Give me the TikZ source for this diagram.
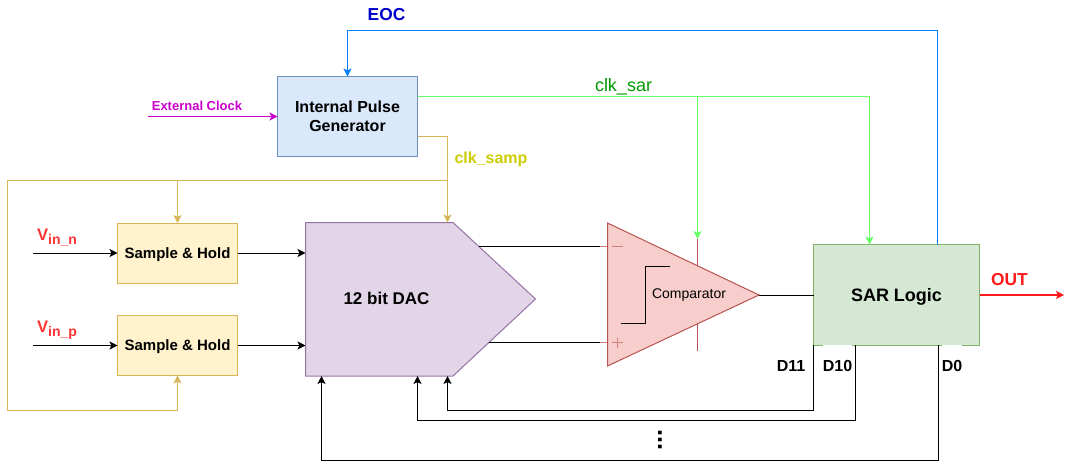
\documentclass[tikz,border=0pt]{standalone}
\usepackage{fontspec}
\setmainfont{Liberation Sans}
\usetikzlibrary{arrows.meta, positioning}

\definecolor{bluefill}{HTML}{DAE8FC}
\definecolor{blueline}{HTML}{6C8EBF}
\definecolor{goldfill}{HTML}{FFF2CC}
\definecolor{goldline}{HTML}{D6B656}
\definecolor{dacfill}{HTML}{E1D5E7}
\definecolor{dacline}{HTML}{9673A6}
\definecolor{cmpfill}{HTML}{F8CECC}
\definecolor{cmpline}{HTML}{B85450}
\definecolor{sarfill}{HTML}{D5E8D4}
\definecolor{sarline}{HTML}{82B366}
\definecolor{eocline}{HTML}{007FFF}
\definecolor{eoctext}{HTML}{0000CC}
\definecolor{sarclk}{HTML}{66FF66}
\definecolor{sarclktext}{HTML}{009900}
\definecolor{samptext}{HTML}{CCCC00}
\definecolor{extclk}{HTML}{CC00CC}
\definecolor{redtext}{HTML}{FF3333}

\newcommand{\fsz}[1]{\fontsize{#1}{#1}\selectfont}
\newcommand{\vsub}[1]{{\fsz{12.5}V}\raisebox{-3pt}{\fsz{10.5}#1}}

\begin{document}
\begin{tikzpicture}[
    x=0.75pt,
    y=-0.75pt,
    >={Stealth[length=6pt,width=6pt,inset=1.4pt]},
    line width=0.75pt,
    box/.style={draw, outer sep=0pt, inner sep=0pt, align=center, font=\bfseries\fsz{12}},
    shbox/.style={box, draw=goldline, fill=goldfill, minimum width=90pt, minimum height=45pt, text depth=0pt, font=\bfseries\fsz{11.25}},
    lbl/.style={inner sep=0pt, font=\bfseries\fsz{10.5}},
    dlbl/.style={lbl, fill=white, minimum height=31.5pt, font=\bfseries\fsz{12}},
    gold/.style={goldline},
    sign/.style={cmpline!65!cmpfill},
]
    \useasboundingbox (0,0) rectangle (1073,471);

    \node[box, draw=blueline, fill=bluefill, minimum width=105pt, minimum height=60pt] (pulse) at (347.5,116.5) {\raisebox{0.6pt}{Internal Pulse}\\[1.5pt]Generator};
    \node[shbox] (shn) at (177.5,253) {Sample \& Hold};
    \node[shbox] (shp) at (177.5,345.5) {Sample \& Hold};
    \node[box, draw=sarline, fill=sarfill, minimum width=124.5pt, minimum height=75.4pt, text depth=0pt, font=\bfseries\fsz{13.5}] (sar) at (896.5,294.75) {SAR Logic};

    % dac outline
    \coordinate (daca) at (305.5,222.5);
    \coordinate (dacb) at (453,222.5);
    \coordinate (dacc) at (535.5,299);
    \coordinate (dacd) at (453,376);
    \coordinate (dace) at (305.5,376);
    \draw[dacline, fill=dacfill] (daca) -- (dacb) -- (dacc) -- (dacd) -- (dace) -- cycle;
    \node[lbl, font=\bfseries\fsz{12.75}] (dac) at (386.5,298) {12 bit DAC};

    % comparator, supply pin runs behind it
    \coordinate (pintop) at (697.5,239);
    \coordinate (pinbot) at (697.5,350.5);
    \draw[cmpline] (pintop) -- (pinbot);
    \coordinate (cmpa) at (607.5,223);
    \coordinate (cmpb) at (607.5,366);
    \coordinate (cmpc) at (759,295);
    \coordinate (minus) at (607.5,246.5);
    \coordinate (plus) at (607.5,342.5);
    \draw[sign] (600,246.5) -- (minus);
    \draw[sign] (600,342.5) -- (plus);
    \draw[cmpline, fill=cmpfill] (cmpa) -- (cmpc) -- (cmpb) -- cycle;
    \draw[sign] (612,246.5) -- (623,246.5);
    \draw[sign] (612,342.5) -- (623,342.5) (617.5,337.5) -- (617.5,347.5);
    \draw (621,323.5) -- (645.5,323.5) -- (645.5,266) -- (669.5,266);
    \node[inner sep=0pt, font=\fsz{10.5}] (cmp) at (689,295) {Comparator};

    % outputs of the dac
    \coordinate (dacup) at (479,246.5);
    \coordinate (daclo) at (489,342.5);
    \coordinate (minusin) at (600,246.5);
    \coordinate (plusin) at (600,342.5);
    \draw (dacup) -- (minusin);
    \draw (daclo) -- (plusin);
    \draw (cmpc) -- (cmpc -| sar.west);

    % sample and hold inputs
    \coordinate (inn) at (33,253);
    \coordinate (inp) at (33,345.5);
    \coordinate (dacn) at (305.5,253);
    \coordinate (dacp) at (305.5,345.5);
    \draw[->] (inn) -- (shn.west);
    \draw[->] (inp) -- (shp.west);
    \draw[->] (shn.east) -- (dacn);
    \draw[->] (shp.east) -- (dacp);

    % clk_samp
    \coordinate (sampout) at (417.5,136.5);
    \coordinate (sampdac) at (447.5,222.5);
    \coordinate (sampbr) at (447.5,180.5);
    \coordinate (sampleft) at (7.5,180.5);
    \coordinate (samplow) at (7.5,410.5);
    \draw[gold, ->] (sampout) -| (sampdac);
    \draw[gold, ->] (sampbr) -- (sampleft) |- (samplow -| shp.south) -- (shp.south);
    \draw[gold, ->] (shn.north |- sampbr) -- (shn.north);

    % clk_sar
    \coordinate (sarclkout) at (417.5,96.5);
    \coordinate (sarclkin) at (869.5,244.5);
    \draw[sarclk, ->] (sarclkout) -| (sarclkin);
    \draw[sarclk, ->] (pintop |- sarclkout) -- (pintop);

    % eoc
    \coordinate (eocout) at (937.5,244.5);
    \coordinate (eoctop) at (937.5,30.5);
    \draw[eocline, ->] (eocout) -- (eoctop) -| (pulse.north);

    % external clock
    \coordinate (extin) at (148,116.5);
    \draw[extclk, ->] (extin) -- (pulse.west);

    % output
    \coordinate (outend) at (1064,295);
    \draw[red!90!white, line width=1pt, ->] (sar.east |- outend) -- (outend);

    % digital feedback
    \coordinate (dtop) at (813.5,345);
    \coordinate (dtena) at (855,345);
    \coordinate (dzero) at (938,345);
    \coordinate (dacelv) at (447.5,376);
    \coordinate (dacten) at (417.5,376);
    \coordinate (daczero) at (321.5,376);
    \draw[->] (dtop) -- (813.5,410.5) -| (dacelv);
    \draw[->] (dtena) -- (855,420.5) -| (dacten);
    \draw[->] (dzero) -- (938,460.5) -| (daczero);

    \node[lbl, text=eoctext, font=\bfseries\fsz{13}] (eoc) at (386.5,14.5) {EOC};
    \node[lbl, text=sarclktext, font=\fsz{13.5}] (clksar) at (623.5,86.5) {clk\_sar};
    \node[lbl, text=samptext, font=\bfseries\fsz{12}] (clksamp) at (491,159) {clk\_samp};
    \node[lbl, text=extclk, font=\bfseries\fsz{9.75}] (extlbl) at (197,105.5) {External Clock};
    \node[lbl, text=redtext, font=\bfseries] (vinn) at (57,238) {\vsub{in\_n}};
    \node[lbl, text=redtext, font=\bfseries] (vinp) at (57,330) {\vsub{in\_p}};
    \node[lbl, text=red!90!white, font=\bfseries\fsz{13}] (outlbl) at (1009.5,280) {OUT};
    \node[dlbl] (dlabel) at (791,366) {D11};
    \node[dlbl] (dlabelb) at (837.5,366) {D10};
    \node[dlbl] (dlabelc) at (952,366) {D0};
    \node[lbl, font=\bfseries\fsz{19}, rotate=90] (dots) at (660,440) {...};
\end{tikzpicture}
\end{document}
